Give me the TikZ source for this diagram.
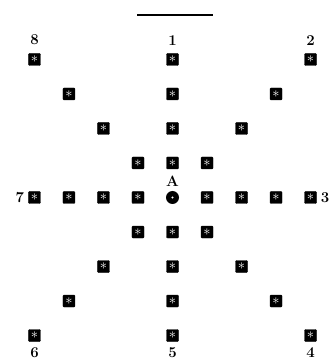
\documentclass[tikz,border=0pt]{standalone}
\usepackage{tikz}
\usetikzlibrary{positioning}

\begin{document}
\begin{tikzpicture}[
  x=34.5pt, y=34.5pt,
  seed/.style={draw=black, fill=black, rectangle, rounded corners=1pt,
    minimum size=12pt, inner sep=0pt, text=white,
    font=\Large\bfseries},
  hub/.style={circle, fill=black, minimum size=13pt, inner sep=0pt},
  num/.style={font=\fontsize{15}{15}\selectfont\bfseries, inner sep=1pt},
]
  \useasboundingbox (-172.5pt,-166.5pt) rectangle (162.5pt,197.5pt);

  % Centre point A
  \node[hub] (hubA) at (0,0) {};
  \fill[white] (hubA.center) circle (1.2pt);
  \node[num, above=3pt of hubA] (labA) {A};

  % Eight arms, four seeds each
  \foreach \dir/\dx/\dy in {1/0/1, 2/1/1, 3/1/0, 4/1/-1,
                            5/0/-1, 6/-1/-1, 7/-1/0, 8/-1/1} {
    \foreach \k in {1,...,4}
      \node[seed] (p\dir-\k) at (\dx*\k,\dy*\k) {$\ast$};
  }

  % Arm numbers
  \node[num, above=7pt of p1-4] (lab1) {1};
  \node[num, above=7pt of p2-4] (lab2) {2};
  \node[num, right=3pt of p3-4] (lab3) {3};
  \node[num, below=5pt of p4-4] (lab4) {4};
  \node[num, below=5pt of p5-4] (lab5) {5};
  \node[num, below=5pt of p6-4] (lab6) {6};
  \node[num, left=3pt of p7-4] (lab7) {7};
  \node[num, above=7pt of p8-4] (lab8) {8};

  % Rule at the top
  \coordinate (ruleL) at (-35.5pt,182.5pt);
  \coordinate (ruleR) at (40.5pt,182.5pt);
  \draw[line width=1.2pt] (ruleL) -- (ruleR);
\end{tikzpicture}
\end{document}
